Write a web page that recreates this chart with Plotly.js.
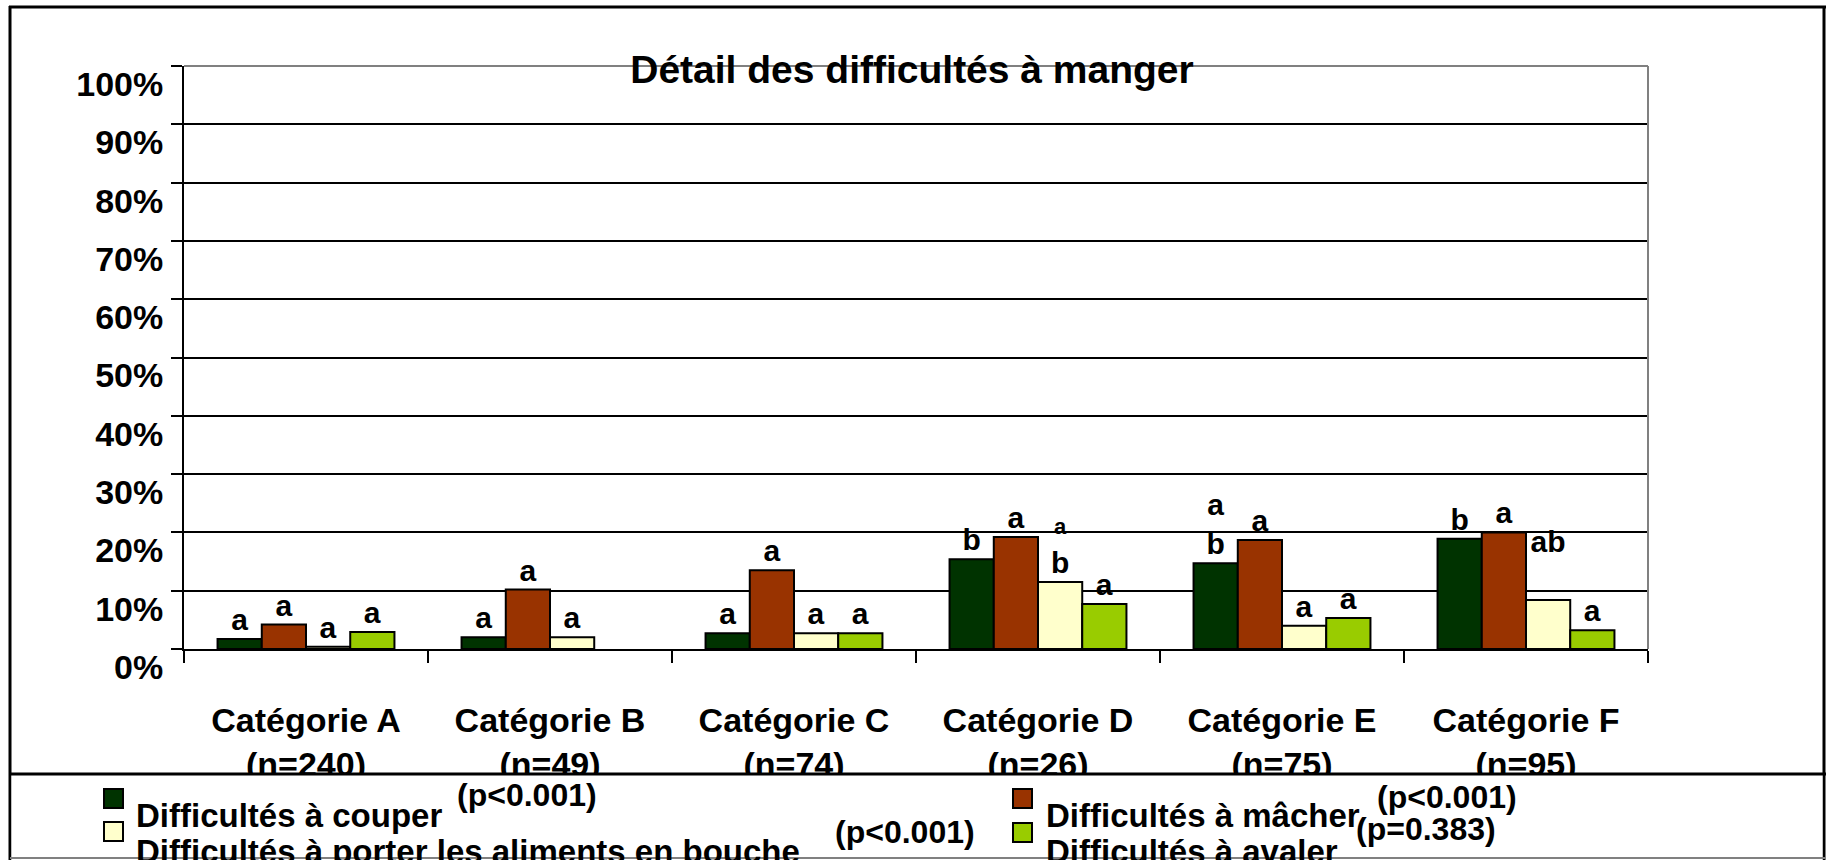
<!DOCTYPE html>
<html><head><meta charset="utf-8">
<script src="https://cdn.plot.ly/plotly-3.0.1.min.js"></script>
<style>html,body{margin:0;padding:0;background:#fff;} #chart{width:1826px;height:860px;}</style>
</head><body><div id="chart"></div>
<script>
// ---- data ----
const categories = ['Catégorie A', 'Catégorie B', 'Catégorie C', 'Catégorie D', 'Catégorie E', 'Catégorie F'];
const sampleSizes = ['(n=240)', '(n=49)', '(n=74)', '(n=26)', '(n=75)', '(n=95)'];
const seriesNames = ['Difficultés à couper', 'Difficultés à mâcher', 'Difficultés à porter les aliments en bouche', 'Difficultés à avaler'];
const pValues = ['(p<0.001)', '(p<0.001)', '(p<0.001)', '(p=0.383)'];
const couper = [1.7, 2.0, 2.7, 15.4, 14.7, 18.9];
const macher = [4.2, 10.2, 13.5, 19.2, 18.7, 20.0];
const porter = [0.4, 2.0, 2.7, 11.5, 4.0, 8.4];
const avaler = [2.9, null, 2.7, 7.7, 5.3, 3.2];
const lettersCouper = ['a', 'a', 'a', 'b', 'a<br>b', 'b'];
const lettersMacher = ['a', 'a', 'a', 'a', 'a', 'a'];
const lettersPorter = ['a', 'a', 'a', '<span style="font-size:22px">a</span><br>b', 'a', 'ab<br>&nbsp;'];
const lettersAvaler = ['a', '', 'a', 'a', 'a', 'a'];
const yTickVals = [0, 10, 20, 30, 40, 50, 60, 70, 80, 90, 100];
const yTickText = ['0%', '10%', '20%', '30%', '40%', '50%', '60%', '70%', '80%', '90%', '100%'];
const chartTitle = 'Détail des difficultés à manger';

// ---- styles ----
const FONT = 'Liberation Sans, Arial, sans-serif';
const colors = ['#003300', '#993300', '#FFFFCC', '#99CC00'];
const W = 1826, H = 860;
const L = 184, R = 1648, T = 66, B = 649;
const px = v => (v - L) / (R - L);
const py = v => (B - v) / (B - T);

const values = [couper, macher, porter, avaler];
const letters = [lettersCouper, lettersMacher, lettersPorter, lettersAvaler];

const traces = values.map((vals, i) => ({
  type: 'bar', name: seriesNames[i], x: categories, y: vals,
  marker: {color: colors[i], line: {color: '#000', width: 2}},
  text: letters[i], textposition: 'outside', cliponaxis: false, constraintext: 'none',
  textangle: 0,
  textfont: {family: FONT, size: 30, color: '#000', weight: 700},
  hoverinfo: 'skip', showlegend: false
}));

// legend layout (custom)
const legendPos = [
  {sx: 104, sy: 789, tx: 134, ty: 815, p: [527, 795]},
  {sx: 1013, sy: 789, tx: 1044, ty: 815, p: [1447, 797]},
  {sx: 104, sy: 822, tx: 134, ty: 851, p: [905, 832]},
  {sx: 1013, sy: 823, tx: 1044, ty: 851, p: [1426, 829]}
];

const shapes = [
  // outer frame
  {type: 'line', xref: 'paper', yref: 'paper', x0: px(10), x1: px(10), y0: py(6), y1: py(860), line: {color: '#000', width: 3}, layer: 'above'},
  {type: 'line', xref: 'paper', yref: 'paper', x0: px(9), x1: px(1826), y0: py(7), y1: py(7), line: {color: '#000', width: 3}, layer: 'above'},
  {type: 'line', xref: 'paper', yref: 'paper', x0: px(1824), x1: px(1824), y0: py(6), y1: py(860), line: {color: '#000', width: 3}, layer: 'above'},
  // legend box
  {type: 'rect', xref: 'paper', yref: 'paper', x0: px(11.5), x1: px(1822.5), y0: py(774), y1: py(860), fillcolor: '#fff', line: {width: 0}, layer: 'above'},
  {type: 'line', xref: 'paper', yref: 'paper', x0: px(10), x1: px(1826), y0: py(774), y1: py(774), line: {color: '#000', width: 3}, layer: 'above'},
  {type: 'line', xref: 'paper', yref: 'paper', x0: px(10), x1: px(1826), y0: py(858), y1: py(858), line: {color: '#808080', width: 2}, layer: 'above'},
  // plot area top/right border (grey)
  {type: 'line', xref: 'paper', yref: 'paper', x0: 0, x1: 1, y0: 1, y1: 1, line: {color: '#808080', width: 2}, layer: 'above'},
  {type: 'line', xref: 'paper', yref: 'paper', x0: 1, x1: 1, y0: 0, y1: 1, line: {color: '#808080', width: 2}, layer: 'above'}
];
const annotations = [];
legendPos.forEach((lp, i) => {
  shapes.push({type: 'rect', xref: 'paper', yref: 'paper', x0: px(lp.sx), x1: px(lp.sx + 19), y0: py(lp.sy), y1: py(lp.sy + 19),
    fillcolor: colors[i], line: {color: '#000', width: 2}, layer: 'above'});
  annotations.push({xref: 'paper', yref: 'paper', x: px(lp.tx), y: py(lp.ty), xanchor: 'left', yanchor: 'middle',
    text: seriesNames[i], showarrow: false, font: {family: FONT, size: 33, color: '#000', weight: 700}});
  annotations.push({xref: 'paper', yref: 'paper', x: px(lp.p[0]), y: py(lp.p[1]), xanchor: 'center', yanchor: 'middle',
    text: pValues[i], showarrow: false, font: {family: FONT, size: 32, color: '#000', weight: 700}});
});

const layout = {
  width: W, height: H, autosize: false,
  margin: {l: L, r: W - R, t: T, b: H - B, pad: 0},
  paper_bgcolor: '#fff', plot_bgcolor: '#fff',
  barmode: 'group', bargap: 0.275, bargroupgap: 0,
  title: {text: chartTitle, x: px(912), xref: 'paper', xanchor: 'center', y: 1 - 69 / H, yref: 'container', yanchor: 'middle',
    font: {family: FONT, size: 39, color: '#000', weight: 700}},
  xaxis: {
    type: 'category', tickvals: categories,
    ticktext: categories.map((c, i) => c + '<br>' + sampleSizes[i]),
    showline: true, linecolor: '#000', linewidth: 2, showgrid: false, zeroline: false,
    ticks: 'outside', tickson: 'boundaries', ticklen: 12, tickwidth: 2, tickcolor: '#000',
    tickfont: {family: FONT, size: 34, color: '#000', weight: 700},
    ticklabelstandoff: 40, fixedrange: true
  },
  yaxis: {
    range: [0, 100], tickvals: yTickVals, ticktext: yTickText,
    showline: true, linecolor: '#000', linewidth: 2,
    showgrid: true, gridcolor: '#000', gridwidth: 2, zeroline: false,
    ticks: 'outside', ticklen: 11, tickwidth: 2, tickcolor: '#000',
    tickfont: {family: FONT, size: 34, color: '#000', weight: 700},
    ticklabelshift: 18, ticklabelstandoff: 1, fixedrange: true
  },
  shapes: shapes,
  annotations: annotations
};

Plotly.newPlot('chart', traces, layout, {displayModeBar: false, staticPlot: true});
</script>
</body></html>
